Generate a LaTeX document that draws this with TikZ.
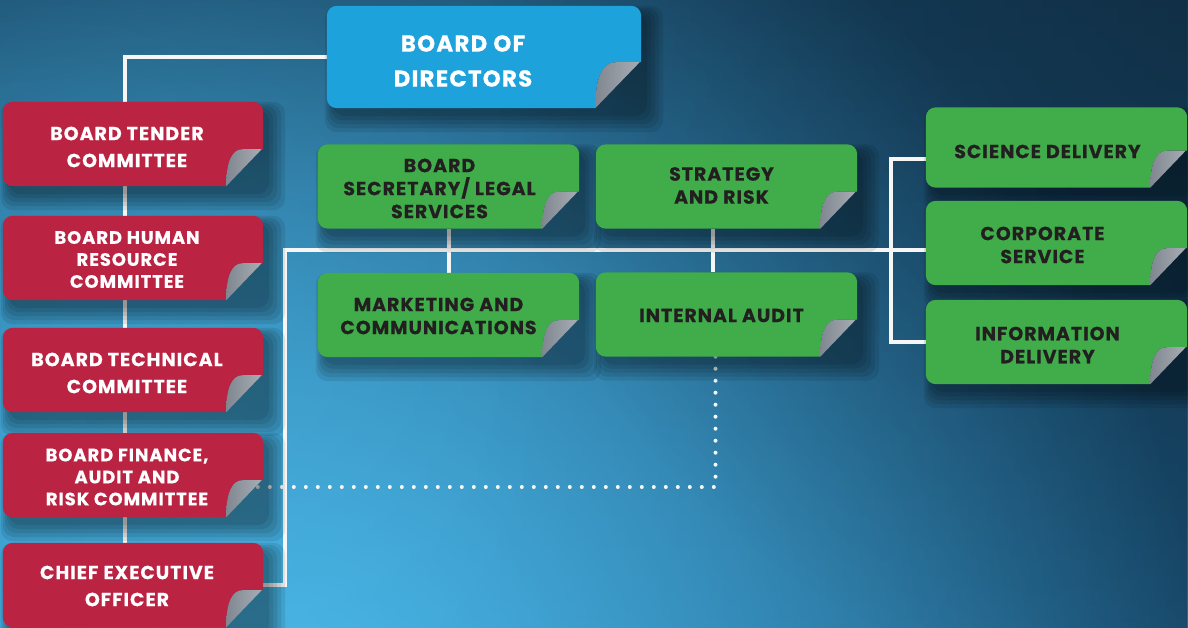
\documentclass[tikz,border=0pt]{standalone}
\usepackage{fontspec}
\setmainfont{Poppins}[LetterSpace=5, BoldFeatures={FakeBold=0.3}]
\usetikzlibrary{fadings}

\definecolor{cmtred}{RGB}{187,35,67}
\definecolor{boardblue}{RGB}{30,162,220}
\definecolor{unitgreen}{RGB}{64,173,74}
\definecolor{inkdark}{RGB}{35,31,32}
\definecolor{curlgrey}{RGB}{128,135,144}
\definecolor{curllight}{RGB}{168,173,180}
\definecolor{skytop}{RGB}{24,68,98}
\definecolor{skylow}{RGB}{36,110,158}
\definecolor{skydark}{RGB}{14,40,60}
\definecolor{skyglow}{RGB}{78,190,238}
\definecolor{wire}{RGB}{246,246,246}

\pgfdeclarelayer{sky}
\pgfdeclarelayer{wires}
\pgfdeclarelayer{cards}
\pgfsetlayers{sky,wires,cards,main}

\tikzfading[name=glowfade, inner color=transparent!0, outer color=transparent!100]
\tikzfading[name=rightfade, left color=transparent!100, right color=transparent!0]

% card under node #1: soft shadow, body in colour #2, curled corner of size #3
\newcommand{\card}[3]{%
  \begin{pgfonlayer}{cards}
    \foreach \e in {0,4,...,16}
      \fill[black, opacity=0.09, rounded corners=12pt]
        ([xshift={6-\e/2}, yshift={-8+\e/2}]#1.north west) rectangle ([xshift={6+\e}, yshift={-8-\e}]#1.south east);
    \fill[#2]
      ([yshift=#3]#1.south east) -- ([xshift=-0.55*#3, yshift=#3]#1.south east)
      .. controls ([xshift=-0.85*#3, yshift=#3]#1.south east) and ([xshift=-#3, yshift=0.65*#3]#1.south east)
      .. ([xshift=-#3]#1.south east) [rounded corners=10pt]
      -- (#1.south west) -- (#1.north west) -- (#1.north east) -- ([yshift=#3]#1.south east);
    \shade[left color=curlgrey, right color=curllight]
      ([xshift=-1.5, yshift=#3]#1.south east) -- ([xshift=-0.55*#3, yshift=#3]#1.south east)
      .. controls ([xshift=-0.85*#3, yshift=#3]#1.south east) and ([xshift=-#3, yshift=0.65*#3]#1.south east)
      .. ([xshift=-#3]#1.south east) -- cycle;
  \end{pgfonlayer}}

\begin{document}
\begin{tikzpicture}[x=1pt, y=-1pt,
    box/.style={inner sep=0pt, minimum width=261pt, minimum height=84pt},
    redtxt/.style={text=white, align=center, font=\bfseries\fontsize{19}{27}\selectfont},
    redtxt3/.style={redtxt, font=\bfseries\fontsize{18}{22}\selectfont},
    greentxt/.style={text=inkdark, align=center, font=\bfseries\fontsize{19}{23}\selectfont},
    bluetxt/.style={text=white, align=center, font=\bfseries\fontsize{23}{35}\selectfont},
    link/.style={draw=wire, line width=4pt},
    dots/.style={draw=wire, line width=4pt, line cap=round, dash pattern=on 0pt off 12pt}]

  \useasboundingbox (0,0) rectangle (1188,628);

  % sky
  \begin{pgfonlayer}{sky}
    \shade[top color=skytop, bottom color=skylow] (0,0) rectangle (1188,628);
    \fill[skydark, path fading=rightfade, opacity=0.5] (500,0) rectangle (1188,628);
    \fill[skyglow, path fading=glowfade, opacity=0.9] (300,690) circle (900);
    \fill[skyglow, path fading=glowfade, opacity=0.35] (60,420) circle (500);
    \fill[skydark, path fading=glowfade, opacity=0.4] (1188,0) circle (700);
  \end{pgfonlayer}

  % board
  \node[box, minimum width=314pt, minimum height=102pt,
    label={[bluetxt, xshift=-21pt, yshift=-4pt]center:{BOARD OF\\DIRECTORS}}] (bod) at (484,57) {};

  % committees
  \node[box, minimum width=260pt, label={[redtxt, xshift=-6pt, yshift=-3pt]center:{BOARD TENDER\\COMMITTEE}}] (tender) at (133,144) {};
  \node[box, minimum width=260pt, label={[redtxt3, xshift=-6pt, yshift=-1.5pt]center:{BOARD HUMAN\\RESOURCE\\COMMITTEE}}] (hr) at (133,258) {};
  \node[box, minimum width=260pt, label={[redtxt, xshift=-6pt, yshift=-3pt]center:{BOARD TECHNICAL\\COMMITTEE}}] (tech) at (133,370) {};
  \node[box, minimum width=260pt, label={[redtxt3, xshift=-6pt, yshift=-2pt]center:{BOARD FINANCE,\\AUDIT AND\\RISK COMMITTEE}}] (fin) at (133,475) {};
  \node[box, minimum width=260pt, label={[redtxt, xshift=-6pt, yshift=-1pt]center:{CHIEF EXECUTIVE\\OFFICER}}] (ceo) at (133,585) {};

  % office units
  \node[box, label={[greentxt, xshift=-9pt, yshift=-2pt]center:{BOARD\\SECRETARY/ LEGAL\\SERVICES}}] (sec) at (448.5,186.5) {};
  \node[box, label={[greentxt, xshift=-10pt, yshift=-1pt]center:{MARKETING AND\\COMMUNICATIONS}}] (mkt) at (448.5,315) {};
  \node[box, label={[greentxt, xshift=-5pt, yshift=1pt]center:{STRATEGY\\AND RISK}}] (strat) at (726.5,186.5) {};
  \node[box, label={[greentxt, xshift=-5pt, yshift=-1pt]center:{INTERNAL AUDIT}}] (audit) at (726.5,314.5) {};

  % delivery units
  \node[box, minimum height=80pt, label={[greentxt, xshift=-9pt, yshift=-4pt]center:{SCIENCE DELIVERY}}] (sci) at (1056.5,147.5) {};
  \node[box, label={[greentxt, xshift=-14pt, yshift=-2pt]center:{CORPORATE\\SERVICE}}] (corp) at (1056.5,243) {};
  \node[box, label={[greentxt, xshift=-9pt, yshift=-3pt]center:{INFORMATION\\DELIVERY}}] (info) at (1056.5,342) {};

  \card{bod}{boardblue}{46}
  \foreach \n in {tender,hr,tech,fin,ceo}
    \card{\n}{cmtred}{37};
  \foreach \n in {sec,mkt,strat,audit,sci,corp,info}
    \card{\n}{unitgreen}{37};

  % lines
  \coordinate (hub) at (285,250);
  \begin{pgfonlayer}{wires}
    \draw[link] (bod.west) -| ([xshift=-8pt]ceo.north);
    \draw[link] (ceo.east) -| (hub) -- (hub -| corp.west);
    \draw[link] (sec.south) -- (mkt.north);
    \draw[link] ([xshift=-14pt]strat.south) -- ([xshift=-14pt]audit.north);
    \draw[link] ([yshift=-12pt]sci.west) -| ([xshift=-35pt]info.west) -- (info.west);
    \draw[dots] ([xshift=-11pt]audit.south) |- ([xshift=-6pt, yshift=-12pt]fin.east);
  \end{pgfonlayer}
\end{tikzpicture}
\end{document}
